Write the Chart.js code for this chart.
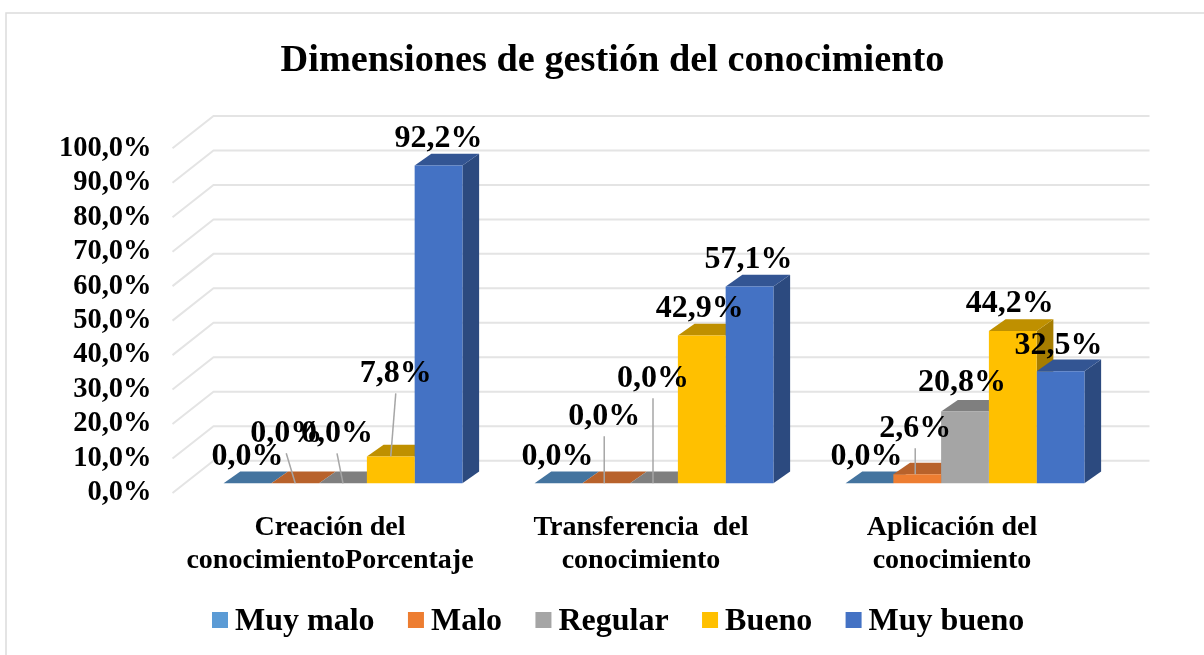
<!DOCTYPE html>
<html lang="es">
<head>
<meta charset="UTF-8">
<title>Dimensiones de gestión del conocimiento</title>
<script src="https://cdn.jsdelivr.net/npm/chart.js"></script>
<style>
  html, body { margin: 0; padding: 0; background: #fff; overflow: hidden; }
  canvas { display: block; }
</style>
</head>
<body>
<canvas id="chart" width="1204" height="655"></canvas>
<script>
// data
const categories = [
    ['Creación del', 'conocimientoPorcentaje'],
    ['Transferencia  del', 'conocimiento'],
    ['Aplicación del', 'conocimiento']
];
const seriesNames = ['Muy malo', 'Malo', 'Regular', 'Bueno', 'Muy bueno'];
const muyMalo = [0, 0, 0];
const malo = [0, 0, 2.6];
const regular = [0, 0, 20.8];
const bueno = [7.8, 42.9, 44.2];
const muyBueno = [92.2, 57.1, 32.5];

// styles
const frontColors = ['#5B9BD5', '#ED7D31', '#A5A5A5', '#FFC000', '#4472C4'];
const topColors = ['#44749F', '#B8622B', '#7F7F7F', '#BF9000', '#335593'];
const sideColors = ['#3B6489', '#A05524', '#6C6C6C', '#A67D00', '#2C4A7F'];

// where each data label sits relative to the top of its bar [dx, dy], one row per series
const labelOffsets = [
    [[0, -27], [-1, -27], [-3, -27]],
    [[-9, -50], [-2, -67], [-2, -46]],
    [[-6, -50], [-1, -105], [-3, -29]],
    [[5, -83], [-2, -27], [-3, -27]],
    [[0, -27], [-1, -27], [-2, -26]]
];

const FONT = '"Liberation Serif", "Times New Roman", serif';
const barShiftX = 13, barShiftY = -9.7;   // bars stand inside the floor, not on its front edge
const barDepthX = 16.7, barDepthY = 11.7;

const fmt = v => v.toFixed(1).replace('.', ',') + '%';

const box3d = {
    id: 'box3d',
    afterLayout(chart) {
        // title is centred a bit off the plot
        chart.titleBlock.left = 21;
        chart.titleBlock.right = 1204;
    },
    beforeDraw(chart) {
        const ctx = chart.ctx;
        ctx.save();
        ctx.strokeStyle = '#dcdcdc';
        ctx.lineWidth = 1.5;
        ctx.strokeRect(6, 13, 1400, 900);
        ctx.restore();
    },
    beforeDatasetsDraw(chart) {
        const ctx = chart.ctx, y = chart.scales.y, area = chart.chartArea;
        // wall and side gridlines
        ctx.save();
        ctx.strokeStyle = '#e4e4e4';
        ctx.lineWidth = 2;
        y.ticks.forEach(t => {
            const py = y.getPixelForValue(t.value);
            ctx.beginPath();
            ctx.moveTo(area.left - 2, py);
            ctx.lineTo(area.left + 39, py - 32.3);
            ctx.lineTo(area.right + 42, py - 32.3);
            ctx.stroke();
        });
        ctx.restore();

        // bar tops and right sides, left to right so nearer bars cover them
        ctx.save();
        ctx.translate(barShiftX, barShiftY);
        categories.forEach((c, ci) => {
            seriesNames.forEach((s, si) => {
                const bar = chart.getDatasetMeta(si).data[ci];
                const l = bar.x - bar.width / 2, r = bar.x + bar.width / 2;
                ctx.fillStyle = sideColors[si];
                ctx.beginPath();
                ctx.moveTo(r, bar.y);
                ctx.lineTo(r + barDepthX, bar.y - barDepthY);
                ctx.lineTo(r + barDepthX, bar.base - barDepthY);
                ctx.lineTo(r, bar.base);
                ctx.closePath();
                ctx.fill();
                ctx.fillStyle = topColors[si];
                ctx.beginPath();
                ctx.moveTo(l, bar.y);
                ctx.lineTo(l + barDepthX, bar.y - barDepthY);
                ctx.lineTo(r + barDepthX, bar.y - barDepthY);
                ctx.lineTo(r, bar.y);
                ctx.closePath();
                ctx.fill();
            });
        });
        ctx.restore();

        ctx.save();
        ctx.translate(barShiftX, barShiftY);
    },
    afterDatasetsDraw(chart) {
        const ctx = chart.ctx;
        ctx.restore();

        // leader lines, then data labels
        ctx.save();
        const spots = [];
        chart.data.datasets.forEach((ds, si) => {
            ds.data.forEach((v, ci) => {
                const bar = chart.getDatasetMeta(si).data[ci];
                const bx = bar.x + barShiftX, by = bar.y + barShiftY;
                const off = labelOffsets[si][ci];
                spots.push({
                    text: fmt(v),
                    x: bx + off[0],
                    y: by + off[1],
                    endX: Math.abs(off[0]) <= 3 ? bx + off[0] : bx,
                    by,
                    far: off[1] < -40
                });
            });
        });
        ctx.strokeStyle = '#a6a6a6';
        ctx.lineWidth = 1.5;
        spots.filter(p => p.far).forEach(p => {
            ctx.beginPath();
            ctx.moveTo(p.x, p.y + 20);
            ctx.lineTo(p.endX, p.by);
            ctx.stroke();
        });
        ctx.fillStyle = '#000';
        ctx.font = 'bold 32px ' + FONT;
        ctx.textAlign = 'center';
        ctx.textBaseline = 'middle';
        spots.forEach(p => ctx.fillText(p.text, p.x, p.y));

        // legend
        ctx.font = 'bold 32px ' + FONT;
        ctx.textAlign = 'left';
        let lx = 212;
        seriesNames.forEach((name, i) => {
            ctx.fillStyle = frontColors[i];
            ctx.fillRect(lx, 612, 16, 16);
            ctx.fillStyle = '#000';
            ctx.fillText(name, lx + 23, 622);
            lx += 23 + ctx.measureText(name).width + 33.4;
        });
        ctx.restore();
    }
};

const seriesValues = [muyMalo, malo, regular, bueno, muyBueno];

new Chart(document.getElementById('chart'), {
    type: 'bar',
    data: {
        labels: categories,
        datasets: seriesNames.map((name, i) => ({
            label: name,
            data: seriesValues[i],
            backgroundColor: frontColors[i],
            borderWidth: 0,
            clip: false
        }))
    },
    options: {
        responsive: false,
        animation: false,
        categoryPercentage: 0.768,
        barPercentage: 1,
        layout: { padding: { left: 0, right: 96.5, top: 0, bottom: 0 } },
        plugins: {
            legend: { display: false },
            tooltip: { enabled: false },
            title: {
                display: true,
                text: 'Dimensiones de gestión del conocimiento',
                color: '#000',
                font: { family: FONT, size: 38.3, weight: 'bold', lineHeight: 1.2 },
                padding: { top: 38, bottom: 64.3 }
            }
        },
        scales: {
            x: {
                grid: { display: false },
                border: { display: false },
                ticks: {
                    color: '#000',
                    maxRotation: 0,
                    autoSkip: false,
                    padding: 10,
                    font: { family: FONT, size: 28, weight: 'bold', lineHeight: 1.18 }
                },
                afterFit(s) { s.height = 162; }
            },
            y: {
                min: 0,
                max: 100,
                grid: { display: false },
                border: { display: false },
                ticks: {
                    stepSize: 10,
                    autoSkip: false,
                    color: '#000',
                    padding: 15,
                    font: { family: FONT, size: 28.5, weight: 'bold' },
                    callback: v => fmt(v)
                },
                afterFit(s) { s.width = 174.5; }
            }
        }
    },
    plugins: [box3d]
});
</script>
</body>
</html>
